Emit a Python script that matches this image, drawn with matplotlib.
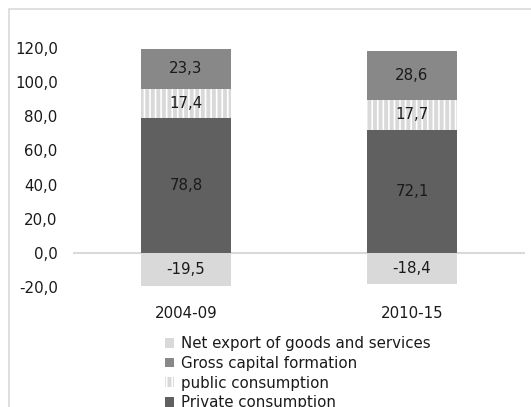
import matplotlib.pyplot as plt
from matplotlib.patches import Rectangle

periods = ['2004-09', '2010-15']
private = [78.8, 72.1]
public = [17.4, 17.7]
capital = [23.3, 28.6]
net_export = [-19.5, -18.4]
yticks = [-20, 0, 20, 40, 60, 80, 100, 120]


def fmt(v):
    return ('%.1f' % v).replace('.', ',')


fs = 10.8
plt.rcParams['font.family'] = 'DejaVu Sans'
plt.rcParams['font.size'] = fs
plt.rcParams['hatch.linewidth'] = 2.8

fig = plt.figure(figsize=(5.31, 4.07), dpi=100)
ax = fig.add_axes([73 / 531, 1 - 287 / 407, 452 / 531, 239 / 407])

x = list(range(len(periods)))
w = 0.4
txt = '#1a1a1a'

b_priv = ax.bar(x, private, w, color='#606060', zorder=3)
pub_bottom = private
b_pub = ax.bar(x, public, w, bottom=pub_bottom, facecolor='white',
               edgecolor='#d9d9d9', hatch='|||', linewidth=0, zorder=3)
cap_bottom = [a + b for a, b in zip(private, public)]
b_cap = ax.bar(x, capital, w, bottom=cap_bottom, color='#888888', zorder=3)
b_net = ax.bar(x, net_export, w, color='#d9d9d9', zorder=3)

for bars, vals in [(b_priv, private), (b_pub, public), (b_cap, capital), (b_net, net_export)]:
    ax.bar_label(bars, labels=[fmt(v) for v in vals], label_type='center',
                 color=txt, fontsize=fs)

ax.axhline(0, color='#d9d9d9', lw=1.5, zorder=1)
ax.set_xlim(-0.5, 1.5)
ax.set_ylim(-20, 120)
ax.set_yticks(yticks)
ax.set_yticklabels([fmt(v) for v in yticks], color=txt)
ax.set_xticks(x)
ax.set_xticklabels(periods, color=txt)
ax.tick_params(axis='both', length=0)
ax.tick_params(axis='y', pad=11)
ax.tick_params(axis='x', pad=14)
for s in ax.spines.values():
    s.set_visible(False)

leg = fig.legend([b_net, b_cap, b_pub, b_priv],
                 ['Net export of goods and services', 'Gross capital formation',
                  'public consumption', 'Private consumption'],
                 loc='upper left', bbox_to_anchor=(165 / 531, 1 - 336 / 407),
                 frameon=False, borderpad=0, borderaxespad=0,
                 handlelength=0.62, handleheight=0.62, handletextpad=0.45,
                 labelspacing=0.32, fontsize=fs)
for t in leg.get_texts():
    t.set_color(txt)

fig.patches.append(Rectangle((9 / 531, -0.1), 1.2, 1.1 - 9 / 407,
                             transform=fig.transFigure, fill=False,
                             edgecolor='#d9d9d9', lw=1.2))

fig.savefig('out.png', dpi=100)
